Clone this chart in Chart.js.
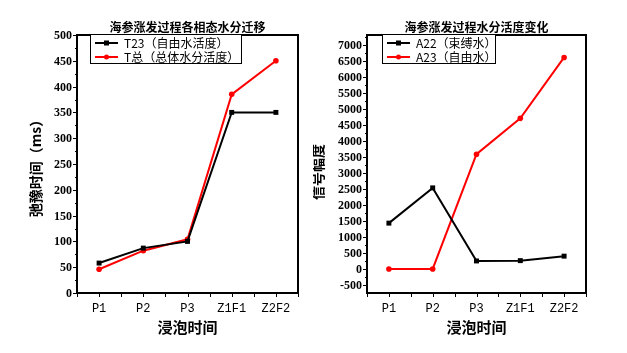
<!DOCTYPE html>
<html>
<head>
<meta charset="utf-8">
<script src="https://cdn.jsdelivr.net/npm/chart.js@4.4.0/dist/chart.umd.min.js"></script>
<style>
  body { margin: 0; background: #fff; }
  #wrap { position: relative; width: 627px; height: 353px; background: #fff; }
  canvas { position: absolute; top: 0; }
</style>
</head>
<body>
<div id="wrap">
  <canvas id="leftChart" width="313" height="353" style="left:0"></canvas>
  <canvas id="rightChart" width="314" height="353" style="left:313px"></canvas>
</div>
<script>
const categories = ['P1', 'P2', 'P3', 'Z1F1', 'Z2F2'];

// left: relaxation time (ms)
const t23 = [58, 87, 100, 350, 350];
const tTotal = [46, 82, 104, 385, 450];
const leftTicks = [0, 50, 100, 150, 200, 250, 300, 350, 400, 450, 500];

// right: signal amplitude
const a22 = [1430, 2530, 250, 260, 400];
const a23 = [0, 0, 3580, 4700, 6600];
const rightTicks = [-500, 0, 500, 1000, 1500, 2000, 2500, 3000, 3500, 4000, 4500, 5000, 5500, 6000, 6500, 7000];

const CJK = '"Noto Sans CJK SC", sans-serif';
const NUM_FONT = 'bold 12px "Liberation Serif", serif';
const CAT_FONT = '12px "Liberation Mono", monospace';

// frame, tick marks, titles and legend drawn on top
const decor = {
  id: 'decor',
  afterDraw(chart, args, o) {
    const ctx = chart.ctx, a = chart.chartArea;
    const xs = chart.scales.x, ys = chart.scales.y;
    ctx.save();
    ctx.strokeStyle = '#000';
    ctx.lineWidth = 1;
    // x ticks: at categories and between them
    const n = categories.length, w = (a.right - a.left) / n;
    ctx.beginPath();
    for (let k = 0; k <= n; k++) {
      const x = Math.round(a.left + k * w) + 0.5;
      ctx.moveTo(x, a.bottom); ctx.lineTo(x, a.bottom + 4);
    }
    for (let i = 0; i < n; i++) {
      const x = Math.round(xs.getPixelForValue(i)) + 0.5;
      ctx.moveTo(x, a.bottom); ctx.lineTo(x, a.bottom + 4);
    }
    // y ticks major + minor
    const tv = o.ticks;
    for (let i = 0; i < tv.length; i++) {
      const y = Math.round(ys.getPixelForValue(tv[i])) + 0.5;
      ctx.moveTo(a.left, y); ctx.lineTo(a.left - 4, y);
      const half = tv[i] + (tv[1] - tv[0]) / 2;
      if (half <= ys.max) {
        const y2 = Math.round(ys.getPixelForValue(half)) + 0.5;
        ctx.moveTo(a.left, y2); ctx.lineTo(a.left - 2, y2);
      }
    }
    ctx.stroke();

    // tick labels
    ctx.fillStyle = '#000';
    ctx.font = NUM_FONT;
    ctx.textAlign = 'right';
    ctx.textBaseline = 'middle';
    tv.forEach(v => ctx.fillText(String(v), a.left - 5, ys.getPixelForValue(v) + 1));
    ctx.font = CAT_FONT;
    ctx.textAlign = 'center';
    categories.forEach((c, i) => ctx.fillText(c, xs.getPixelForValue(i), a.bottom + 16));

    // frame
    ctx.lineWidth = 2;
    ctx.strokeRect(a.left, a.top, a.right - a.left, a.bottom - a.top);

    // legend
    const L = o.legend;
    ctx.fillStyle = '#fff';
    ctx.fillRect(L.x, L.y, L.w, L.h);
    ctx.lineWidth = 1;
    ctx.strokeStyle = '#000';
    ctx.strokeRect(L.x + 0.5, L.y + 0.5, L.w, L.h);
    chart.data.datasets.forEach((ds, i) => {
      const y = L.y + 9 + i * 14;
      ctx.strokeStyle = ds.borderColor;
      ctx.lineWidth = 2;
      ctx.beginPath();
      ctx.moveTo(L.x + 5, y); ctx.lineTo(L.x + 28, y);
      ctx.stroke();
      ctx.fillStyle = ds.borderColor;
      if (ds.pointStyle === 'rect') {
        ctx.fillRect(L.x + 14, y - 2.5, 5, 5);
      } else {
        ctx.beginPath(); ctx.arc(L.x + 16.5, y, 2.5, 0, Math.PI * 2); ctx.fill();
      }
      ctx.fillStyle = '#000';
      ctx.font = '12px ' + CJK;
      ctx.textAlign = 'left';
      ctx.textBaseline = 'middle';
      ctx.fillText(ds.label, L.x + 34, y);
    });

    // titles
    ctx.fillStyle = '#000';
    ctx.textAlign = 'center';
    ctx.textBaseline = 'middle';
    ctx.font = 'bold 12px ' + CJK;
    ctx.fillText(o.title, (a.left + a.right) / 2, 27);
    ctx.font = 'bold 15px ' + CJK;
    ctx.fillText(o.xTitle, (a.left + a.right) / 2, 327);
    ctx.translate(o.yTitleX, o.yTitleY);
    ctx.rotate(-Math.PI / 2);
    ctx.font = 'bold 14px ' + CJK;
    ctx.fillText(o.yTitle, 0, 0);
    ctx.restore();
  }
};

function makeChart(id, sets, yMin, yMax, ticks, yWidth, padRight, extra) {
  return new Chart(document.getElementById(id), {
    type: 'line',
    data: {
      labels: categories,
      datasets: sets.map(s => ({
        label: s.label,
        data: s.data,
        borderColor: s.color,
        backgroundColor: s.color,
        borderWidth: 2,
        pointStyle: s.style,
        pointRadius: s.style === 'rect' ? 3.5 : 2.8,
        pointBorderWidth: 0,
        tension: 0
      }))
    },
    options: {
      responsive: false,
      animation: false,
      layout: { padding: { left: 0, right: padRight, top: 35, bottom: 0 } },
      plugins: {
        legend: { display: false },
        tooltip: { enabled: false },
        decor: Object.assign({ ticks: ticks }, extra)
      },
      scales: {
        x: {
          type: 'category',
          offset: true,
          grid: { display: false, drawTicks: false },
          border: { display: false },
          ticks: { display: false },
          afterFit(s) { s.height = 60; }
        },
        y: {
          min: yMin,
          max: yMax,
          grid: { display: false, drawTicks: false },
          border: { display: false },
          ticks: { display: false },
          afterBuildTicks(s) { s.ticks = ticks.map(v => ({ value: v })); },
          afterFit(s) { s.width = yWidth; }
        }
      }
    },
    plugins: [decor]
  });
}

makeChart('leftChart', [
  { label: 'T23（自由水活度）', data: t23, color: '#000000', style: 'rect' },
  { label: 'T总（总体水分活度）', data: tTotal, color: '#ff0000', style: 'circle' }
], 0, 500, leftTicks, 77, 15, {
  title: '海参涨发过程各相态水分迁移',
  xTitle: '浸泡时间',
  yTitle: '弛豫时间（ms）',
  yTitleX: 36, yTitleY: 165,
  legend: { x: 90, y: 34, w: 151, h: 29 }
});

makeChart('rightChart', [
  { label: 'A22（束缚水）', data: a22, color: '#000000', style: 'rect' },
  { label: 'A23（自由水）', data: a23, color: '#ff0000', style: 'circle' }
], -750, 7300, rightTicks, 54, 41, {
  title: '海参涨发过程水分活度变化',
  xTitle: '浸泡时间',
  yTitle: '信号幅度',
  yTitleX: 5, yTitleY: 172,
  legend: { x: 69, y: 34, w: 113, h: 29 }
});
</script>
</body>
</html>
